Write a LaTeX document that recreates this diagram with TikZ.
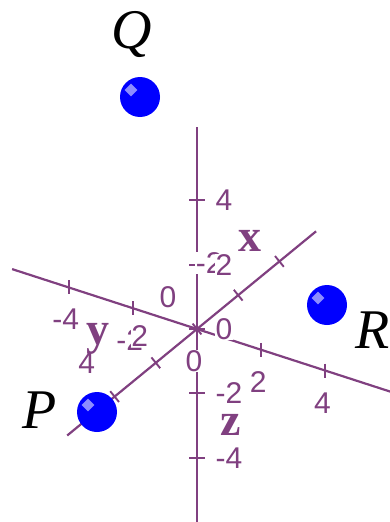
\documentclass[tikz,border=0pt]{standalone}
\usepackage{fontspec}
\setmainfont{Liberation Serif}
\newfontfamily\ticksans{Liberation Sans}
\usetikzlibrary{calc}
\definecolor{axispurple}{RGB}{128,64,128}
\definecolor{ballblue}{RGB}{0,0,255}

\begin{document}
\begin{tikzpicture}[
  x=1pt, y=-1pt,
  axis/.style={draw=axispurple, line width=2.2pt},
  tick/.style={draw=axispurple, line width=1.9pt},
  num/.style={text=axispurple, font=\ticksans\fontsize{30}{30}\selectfont, fill=white, inner sep=0.5pt},
  axname/.style={text=axispurple, font=\bfseries\fontsize{46}{46}\selectfont, inner sep=0pt},
  ball/.style={circle, fill=ballblue, minimum size=40pt, inner sep=0pt},
  shine/.style={rectangle, rotate=45, fill=blue!45!white, minimum size=9pt, inner sep=0pt},
  ptname/.style={font=\itshape\fontsize{56}{56}\selectfont, anchor=base, inner sep=0pt}
]
\useasboundingbox (0,0) rectangle (390,522);

% ---- AXES (3D frame) ----
\begin{scope}[shift={(197pt,-329pt)}, x={(-20.6pt,-16.9pt)}, y={(32.1pt,-10.4pt)}, z={(0pt,32.2pt)}]
  \coordinate (O) at (0,0,0);
  \coordinate (xend) at (-5.78,0,0); \coordinate (xstart) at (6.3,0,0);
  \coordinate (yend) at (0,-5.76,0); \coordinate (ystart) at (0,6.2,0);
  \coordinate (zend) at (0,0,6.27);  \coordinate (zstart) at (0,0,-6);
  \draw[axis] (xstart) -- (xend);
  \draw[axis] (yend) -- (ystart);
  \draw[axis] (zstart) -- (zend);

  % ticks
  \foreach \t in {-4,-2,0,2,4} {
    \draw[tick] (\t,0,0) ++(4.4pt,-5.4pt) -- ++(-8.8pt,10.8pt);
    \draw[tick] (0,\t,0) ++(0pt,7pt) -- ++(0pt,-14pt);
    \draw[tick] (0,0,\t) ++(-8pt,0pt) -- ++(16pt,0pt);
  }

  % y labels
  \foreach \t in {-4,-2,0,2,4}
    \node[num, xshift=-3pt] (ylab\t) at (0,\t,-1) {\t};
  % x labels
  \foreach \t/\dx/\dy in {0/-29/32, 2/-16/27, -2/-29/32, 4/-28/33}
    \node[num, xshift=\dx pt, yshift=\dy pt] (xlab\t) at (\t,0,0) {\t};
  % z labels
  \foreach \t in {-4,-2,0,2,4}
    \node[num, anchor=west, xshift=18pt] (zlab\t) at (0,0,\t) {\t};
\end{scope}

% ---- AXIS NAMES ----
\node[axname] (xname) at (250,241) {x};
\node[axname] (yname) at (98,339) {y};
\node[axname] (zname) at (231,425) {z};

% ---- POINTS ----
\node[ball] (ballQ) at (140,97) {};
\node[ball] (ballR) at (327,305) {};
\node[ball] (ballP) at (97,412) {};
\foreach \b in {ballQ, ballR, ballP}
  \node[shine] at ($(\b)+(-9,-7)$) {};

\node[ptname] (nameQ) at (132,48) {Q};
\node[ptname] (nameR) at (373,348) {R};
\node[ptname] (nameP) at (40,428) {P};
\end{tikzpicture}
\end{document}
